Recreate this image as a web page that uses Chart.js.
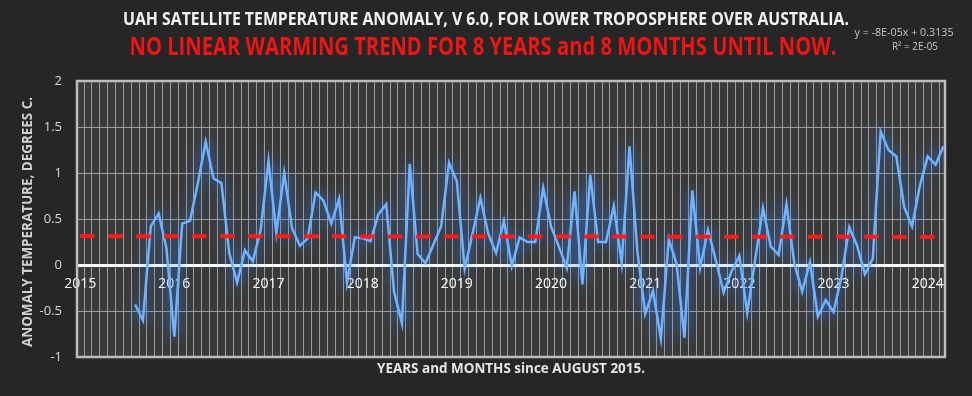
<!DOCTYPE html>
<html><head><meta charset="utf-8">
<script src="https://cdn.jsdelivr.net/npm/chart.js@4.4.1/dist/chart.umd.min.js"></script>
<style>html,body{margin:0;padding:0;background:#262626;}canvas{display:block;}</style>
</head><body>
<canvas id="c" width="972" height="396"></canvas>
<script>
// ---------------- DATA ----------------
const titleText = 'UAH SATELLITE TEMPERATURE ANOMALY, V 6.0, FOR LOWER TROPOSPHERE OVER AUSTRALIA.';
const subtitleText = 'NO LINEAR WARMING TREND FOR 8 YEARS and 8 MONTHS UNTIL NOW.';
const equationLines = ['y = -8E-05x + 0.3135', 'R\u00B2 = 2E-05'];
const yAxisTitle = 'ANOMALY TEMPERATURE, DEGREES C.';
const xAxisTitle = 'YEARS and MONTHS since AUGUST 2015.';
const yearTicks = [2015, 2016, 2017, 2018, 2019, 2020, 2021, 2022, 2023, 2024];
const yTickLabels = ['-1', '-0.5', '0', '0.5', '1', '1.5', '2'];
const firstYear = 2015, firstMonth = 8;           // first observation: August 2015
const trendSlope = -8e-5, trendIntercept = 0.3135; // from the chart's trend equation

// monthly anomalies (deg C), by year
const anom2015 = [-0.43, -0.60, 0.42, 0.56, 0.18];                                  // Aug-Dec
const anom2016 = [-0.78, 0.45, 0.48, 0.89, 1.34, 0.94, 0.89, 0.13, -0.19, 0.16, 0.04, 0.38];
const anom2017 = [1.13, 0.35, 1.00, 0.40, 0.21, 0.29, 0.79, 0.70, 0.45, 0.72, -0.19, 0.30];
const anom2018 = [0.29, 0.26, 0.55, 0.66, -0.29, -0.63, 1.10, 0.12, 0.02, 0.22, 0.42, 1.11];
const anom2019 = [0.91, -0.04, 0.34, 0.73, 0.34, 0.13, 0.48, -0.01, 0.30, 0.25, 0.25, 0.84];
const anom2020 = [0.42, 0.20, -0.03, 0.80, -0.21, 0.98, 0.25, 0.25, 0.64, 0.02, 1.29, 0.15];
const anom2021 = [-0.53, -0.28, -0.80, 0.28, 0.01, -0.79, 0.81, -0.03, 0.38, 0.05, -0.30, -0.07];
const anom2022 = [0.10, -0.52, 0.05, 0.62, 0.20, 0.11, 0.66, 0.02, -0.29, 0.03, -0.56, -0.38];
const anom2023 = [-0.51, -0.13, 0.41, 0.21, -0.10, 0.07, 1.45, 1.25, 1.18, 0.63, 0.42, 0.86];
const anom2024 = [1.18, 1.09, 1.29];                                                   // Jan-Mar

// ---------------- BUILD ----------------
const anomalies = [].concat(anom2015, anom2016, anom2017, anom2018, anom2019,
                            anom2020, anom2021, anom2022, anom2023, anom2024);
// x = months since January of the first tick year
const monthPos = i => (firstYear - yearTicks[0]) * 12 + (firstMonth - 1) + i;
const seriesPoints = anomalies.map((v, i) => ({ x: monthPos(i), y: v }));
const lastPos = monthPos(anomalies.length - 1);
const trendPoints = [];
for (let m = 0; m <= lastPos; m++) {
  const idx = m - monthPos(0) + 1; // Excel series index (1-based)
  trendPoints.push({ x: m, y: trendIntercept + trendSlope * idx });
}

const X_MIN = -0.4, X_MAX = lastPos + 0.2;
const FONT = '"Open Sans", "Liberation Sans", sans-serif';

function fitText(ctx, text, weight, size, cx, cy, targetW, color, rotate) {
  ctx.save();
  ctx.font = weight + ' ' + size + 'px ' + FONT;
  const w = ctx.measureText(text).width;
  const s = targetW / w;
  ctx.translate(cx, cy);
  if (rotate) ctx.rotate(rotate);
  ctx.scale(s, 1);
  ctx.fillStyle = color;
  ctx.textAlign = 'center';
  ctx.textBaseline = 'middle';
  ctx.fillText(text, 0, 0);
  ctx.restore();
}

const decor = {
  id: 'decor',
  beforeDraw(chart) {
    const { ctx, chartArea: a } = chart;
    ctx.save();
    ctx.fillStyle = '#262626';
    ctx.fillRect(0, 0, chart.width, chart.height);
    ctx.fillStyle = '#3a3a3a';
    ctx.fillRect(a.left, a.top, a.right - a.left, a.bottom - a.top);
    ctx.restore();
  },
  beforeDatasetsDraw(chart) {
    const { ctx, chartArea: a } = chart;
    ctx.save();
    ctx.strokeStyle = '#bdbdbd';
    ctx.lineWidth = 2.5;
    ctx.strokeRect(a.left, a.top, a.right - a.left, a.bottom - a.top);
    ctx.restore();
  },
  afterDraw(chart) {
    const ctx = chart.ctx;
    fitText(ctx, titleText, 'bold', 18, 486, 20, 726, '#f2f2f2');
    fitText(ctx, subtitleText, 'bold', 25, 483, 48, 707, '#f01414');
    fitText(ctx, equationLines[0], 'normal', 11, 904, 33, 99, '#c8c8c8');
    fitText(ctx, equationLines[1], 'normal', 11, 915, 47, 46, '#c8c8c8');
    fitText(ctx, yAxisTitle, 'bold', 15, 28, 222, 250, '#d0d0d0', -Math.PI / 2);
    fitText(ctx, xAxisTitle, 'bold', 14, 511, 369, 268, '#e6e6e6');
  }
};

const glow = {
  id: 'glow',
  beforeDatasetDraw(chart, args) {
    if (args.index === 0) {
      const c = chart.ctx;
      c.save();
      c.shadowColor = 'rgba(50,130,255,1)';
      c.shadowBlur = 14;
    }
  },
  afterDatasetDraw(chart, args) {
    if (args.index === 0) chart.ctx.restore();
  }
};

new Chart(document.getElementById('c'), {
  type: 'line',
  data: {
    datasets: [
      { label: 'UAH LT Australia', data: seriesPoints, borderColor: '#70b4ff', borderWidth: 2.5,
        pointRadius: 0, tension: 0, fill: false, order: 1, xAxisID: 'x', yAxisID: 'y' },
      { label: 'Linear trend', data: trendPoints, borderColor: '#ff1a1a', borderWidth: 4,
        borderDash: [14.5, 13.5], pointRadius: 0, tension: 0, fill: false, order: 0, xAxisID: 'x', yAxisID: 'y' }
    ]
  },
  options: {
    responsive: false, animation: false, devicePixelRatio: 1,
    layout: { padding: { left: 0, right: 27, top: 81, bottom: 39 } },
    plugins: { legend: { display: false }, tooltip: { enabled: false }, title: { display: false } },
    scales: {
      y: {
        min: -1, max: 2,
        ticks: { stepSize: 0.5, color: '#d9d9d9', font: { family: FONT, size: 13 }, padding: 15,
                 callback: (v, i) => yTickLabels[i] },
        grid: { color: '#9c9c9c', lineWidth: 1, drawTicks: false },
        border: { display: false },
        afterFit: s => { s.width = 77; }
      },
      x: {
        type: 'linear', position: { y: 0 }, min: X_MIN, max: X_MAX, z: 1,
        grid: { display: false, drawTicks: false },
        border: { display: true, color: '#ffffff', width: 3 },
        ticks: { color: '#ffffff', font: { family: FONT, size: 14 }, padding: 11, autoSkip: false, maxRotation: 0,
                 callback: (v, i) => String(yearTicks[i]) },
        afterBuildTicks: s => { s.ticks = yearTicks.map(y => ({ value: (y - yearTicks[0]) * 12 })); },
        afterFit: s => { s.height = 0; }
      },
      xg: {
        type: 'linear', position: 'bottom', min: X_MIN, max: X_MAX,
        grid: { color: '#9c9c9c', lineWidth: 1, drawTicks: false },
        border: { display: false },
        ticks: { display: false },
        afterBuildTicks: s => {
          const t = [];
          for (let k = -1; k <= lastPos; k++) { const v = k + 0.5; if (v > X_MIN && v < X_MAX) t.push({ value: v }); }
          s.ticks = t;
        },
        afterFit: s => { s.height = 0; }
      }
    }
  },
  plugins: [decor, glow]
});
</script>
</body></html>
